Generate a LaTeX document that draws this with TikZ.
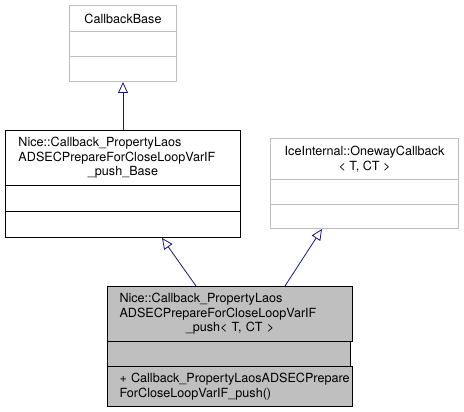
\documentclass[tikz,border=0pt]{standalone}
\usepackage{fontspec}
\setmainfont{TeX Gyre Heros}
\usepackage{xcolor}
\usetikzlibrary{arrows.meta}

\definecolor{edgeblue}{HTML}{191970}
\definecolor{boxgray}{HTML}{BFBFBF}

\begin{document}
\begin{tikzpicture}[x=1pt,y=-1pt,
  part/.style={rectangle,draw=black,line width=1pt,anchor=north west,inner xsep=12pt,inner ysep=0pt,
    align=left,font=\fontsize{12.6}{14.5}\selectfont},
  light part/.style={part,draw=boxgray},
  this part/.style={part,fill=boxgray},
  inherit/.style={draw=edgeblue,line width=0.8pt,-{Triangle[open,length=11pt,width=10pt,fill=white]}}]
  \useasboundingbox (0,0) rectangle (464,412);
  % CallbackBase
  \node[light part,align=center,minimum width=107pt,minimum height=26pt] (cbase) at (69,5) {CallbackBase};
  \node[light part,minimum width=107pt,minimum height=25pt] (cbaseattr) at (69,31) {};
  \node[light part,minimum width=107pt,minimum height=25pt] (cbaseops) at (69,56) {};
  % Callback_..._push_Base
  \node[part,fill=white,text width=209pt,minimum width=235pt,minimum height=55pt] (base) at (5,130)
    {Nice::Callback\_PropertyLaos\\ADSECPrepareForCloseLoopVarIF\\\hbox to\hsize{\hfil\_push\_Base\hfil}};
  \node[part,minimum width=235pt,minimum height=26pt] (baseattr) at (5,185) {};
  \node[part,minimum width=235pt,minimum height=26pt] (baseops) at (5,211) {};
  % OnewayCallback
  \node[light part,align=center,minimum width=188pt,minimum height=41pt] (oneway) at (270,138)
    {IceInternal::OnewayCallback\\< T, CT >};
  \node[light part,minimum width=188pt,minimum height=25pt] (onewayattr) at (270,179) {};
  \node[light part,minimum width=188pt,minimum height=24pt] (onewayops) at (270,204) {};
  % Callback_..._push< T, CT >
  \node[this part,text width=221pt,minimum width=243pt,minimum height=55pt] (push) at (107,286)
    {Nice::Callback\_PropertyLaos\\ADSECPrepareForCloseLoopVarIF\\\hbox to\hsize{\hfil\_push< T, CT >\hfil}};
  \node[this part,minimum width=243pt,minimum height=25pt] (pushattr) at (107,341) {};
  \node[this part,text width=221pt,minimum width=243pt,minimum height=40pt] (pushops) at (107,366)
    {\mbox{+ Callback\_PropertyLaosADSECPrepare}\\\mbox{ForCloseLoopVarIF\_push()}};

  \path[inherit]
    (base.north) -- (cbaseops.south);
  \path[inherit]
    ([xshift=89pt]push.north west) -- ([xshift=157pt]baseops.south west);
  \path[inherit]
    ([xshift=178pt]push.north west) -- ([xshift=52pt]onewayops.south west);
\end{tikzpicture}
\end{document}
